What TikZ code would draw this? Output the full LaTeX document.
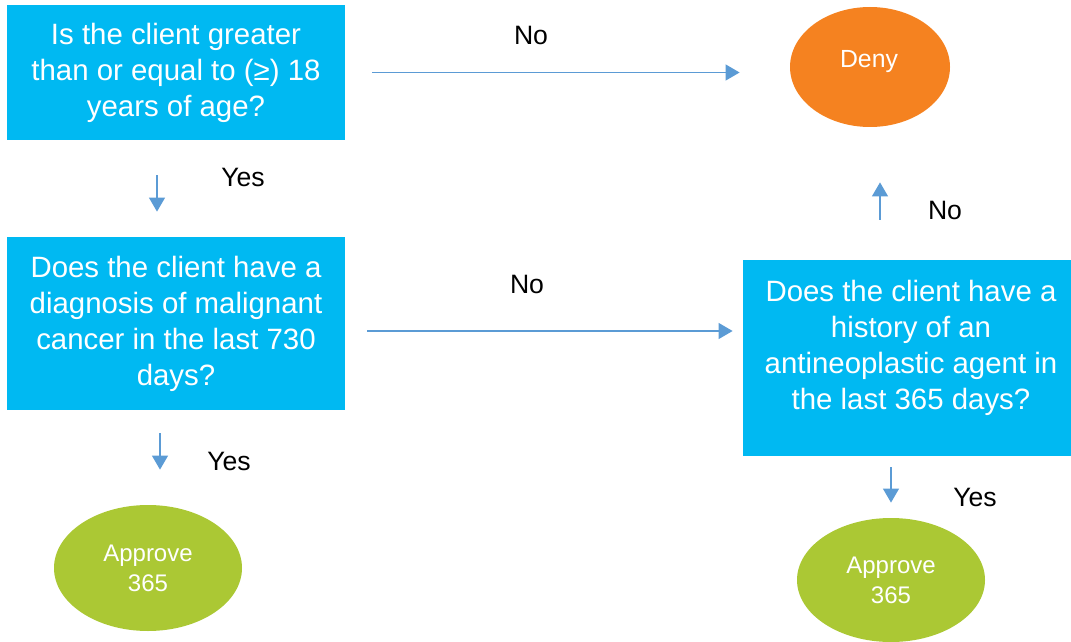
\documentclass[tikz,border=0pt]{standalone}
\usepackage{fontspec}
\setmainfont{Liberation Sans}
\usetikzlibrary{shapes.geometric, arrows.meta}
\definecolor{qcyan}{RGB}{0,185,242}
\definecolor{qorange}{RGB}{245,130,32}
\definecolor{qgreen}{RGB}{171,200,52}
\definecolor{qarrow}{RGB}{91,155,213}
\begin{document}
\begin{tikzpicture}[x=0.5pt, y=-0.5pt,
  question/.style={fill=qcyan, text=white, inner sep=0pt, align=center,
    font=\fontsize{14.7pt}{18pt}\selectfont},
  outcome/.style={ellipse, inner sep=0pt, text=white, align=center,
    font=\fontsize{12pt}{15pt}\selectfont},
  answer/.style={font=\fontsize{13.3pt}{16pt}\selectfont},
  flow/.style={draw=qarrow, line width=0.6pt, -{Triangle[width=8pt,length=7pt]}}]
\useasboundingbox (0,0) rectangle (1071,642);
\node[question, minimum width=169pt, minimum height=67.5pt] (age) at (176,72.5)
  {Is the client greater\\than or equal to (≥) 18\\years of age?};
\node[question, minimum width=169pt, minimum height=86.5pt] (cancer) at (176,323.5)
  {Does the client have a\\diagnosis of malignant\\cancer in the last 730\\days?};
\node[question, minimum width=164pt, minimum height=98pt] (agent) at (907,358) {};
\node[question, fill=none] (agentText) at (911,347.5)
  {Does the client have a\\history of an\\antineoplastic agent in\\the last 365 days?};
\node[outcome, fill=qorange, minimum width=80pt, minimum height=60pt] (deny) at (870,67) {};
\node[outcome, font=\fontsize{12.4pt}{15pt}\selectfont] (denyText) at (869,62) {Deny};
\node[outcome, fill=qgreen, minimum width=94pt, minimum height=63pt] (approveA) at (148,568) {Approve\\365};
\node[outcome, fill=qgreen, minimum width=94pt, minimum height=62pt] (approveB) at (891,580) {Approve\\365};
% connectors
\draw[flow, shorten <=13.5pt, shorten >=25pt] (age.east) -- (age.east -| deny.west);
\draw[flow, shorten <=17.5pt, shorten >=12.5pt] ([xshift=-9.5pt]age.south) -- ([xshift=-9.5pt]age.south |- cancer.north);
\draw[flow, shorten <=11pt, shorten >=5pt] ([yshift=-3.75pt]cancer.east) -- ([yshift=-3.75pt]cancer.east -| agent.west);
\draw[flow, shorten <=11.5pt, shorten >=17.5pt] ([xshift=-8pt]cancer.south) -- ([xshift=-8pt]cancer.south |- approveA.north);
\draw[flow, shorten <=20pt, shorten >=27.5pt] ([xshift=-13.5pt]agent.north) -- ([xshift=-13.5pt]agent.north |- deny.south);
\draw[flow, shorten <=5.5pt, shorten >=7.5pt] ([xshift=-8pt]agent.south) -- ([xshift=-8pt]agent.south |- approveB.north);
% answers
\node[answer] (noAge) at (531,35) {No};
\node[answer] (yesAge) at (243,177) {Yes};
\node[answer] (noCancer) at (527,284) {No};
\node[answer] (yesCancer) at (229,461) {Yes};
\node[answer] (noAgent) at (945,210) {No};
\node[answer] (yesAgent) at (975,497) {Yes};
\end{tikzpicture}
\end{document}
